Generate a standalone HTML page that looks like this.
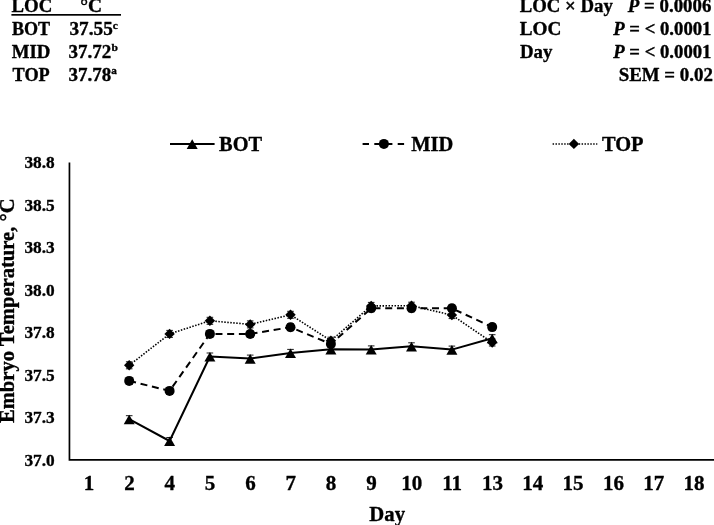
<!DOCTYPE html>
<html><head><meta charset="utf-8"><title>Embryo Temperature</title>
<style>
html,body{margin:0;padding:0;background:#fff;}
body{width:714px;height:525px;overflow:hidden;}
svg{display:block;}
text{font-family:"Liberation Serif","Times New Roman",Times,serif;font-weight:bold;stroke:#000;stroke-width:0.35px;stroke-linejoin:round;fill:#000;}
.yt{font-size:17.3px;text-anchor:end;}
.xt{font-size:21px;text-anchor:middle;}
.ti{font-size:20.6px;text-anchor:middle;}
</style></head><body>
<svg width="714" height="525" viewBox="0 0 714 525">
<rect width="714" height="525" fill="#fff"/>
<g>
<text transform="translate(11.54 12.00) scale(1.0523 1)" style="font-size:17.9px">LOC</text>
<text transform="translate(80.18 12.00) scale(1.0889 1)" style="font-size:17.9px">°C</text>
<rect x="11.4" y="14.0" width="109.6" height="1.7" fill="#000"/>
<text transform="translate(11.90 35.20) scale(1.0093 1)" style="font-size:17.9px">BOT</text>
<text transform="translate(69.46 35.20) scale(1.0752 1)" style="font-size:17.9px">37.55</text>
<text transform="translate(112.74 28.60) scale(1.0444 1)" style="font-size:11px">c</text>
<text transform="translate(11.74 58.00) scale(1.0490 1)" style="font-size:17.9px">MID</text>
<text transform="translate(68.47 58.00) scale(1.0624 1)" style="font-size:17.9px">37.72</text>
<text transform="translate(111.60 51.40) scale(1.0435 1)" style="font-size:11px">b</text>
<text transform="translate(12.60 81.00) scale(1.0194 1)" style="font-size:17.9px">TOP</text>
<text transform="translate(68.47 81.00) scale(1.0624 1)" style="font-size:17.9px">37.78</text>
<text transform="translate(111.25 74.40) scale(1.0095 1)" style="font-size:11px">a</text>
</g><g>
<text transform="translate(519.75 12.20) scale(1.0142 1)" style="font-size:18.5px">LOC × Day</text>
<text transform="translate(627.85 12.20) scale(1.0190 1)" style="font-size:18.5px"><tspan font-style="italic">P</tspan> = 0.0006</text>
<text transform="translate(519.74 35.20) scale(1.0390 1)" style="font-size:18.5px">LOC</text>
<text transform="translate(613.25 35.20) scale(1.0114 1)" style="font-size:18.5px"><tspan font-style="italic">P</tspan> = &lt; 0.0001</text>
<text transform="translate(520.05 57.80) scale(1.0159 1)" style="font-size:18.5px">Day</text>
<text transform="translate(613.25 57.80) scale(1.0114 1)" style="font-size:18.5px"><tspan font-style="italic">P</tspan> = &lt; 0.0001</text>
<text transform="translate(618.63 80.60) scale(1.0220 1)" style="font-size:18.5px">SEM = 0.02</text>
</g><g>
<path d="M170 144H214.6" stroke="#000" stroke-width="2.0" fill="none"/><path d="M192.2 139.3L197.7 148.9H186.7Z"/>
<text transform="translate(219.07 150.80) scale(0.9333 1)" style="font-size:21.8px">BOT</text>
<path d="M362.6 144H407" stroke="#000" stroke-width="2.0" fill="none" stroke-dasharray="6.4 5.3"/><circle cx="383.9" cy="143.9" r="5.0"/>
<text transform="translate(411.27 150.80) scale(0.9394 1)" style="font-size:21.8px">MID</text>
<path d="M552.6 144H597.3" stroke="#000" stroke-width="1.6" fill="none" stroke-dasharray="1.45 1.45"/><path d="M573.9 138.7L579.1 143.9L573.9 149.1L568.7 143.9Z"/>
<text transform="translate(601.97 150.80) scale(0.9371 1)" style="font-size:21.8px">TOP</text>
</g>
<path d="M69.45 162.5V459.8H714" stroke="#000" stroke-width="1.7" fill="none" stroke-linejoin="miter"/>
<text class="yt" x="54.7" y="466.0">37.0</text>
<text class="yt" x="54.7" y="423.4">37.3</text>
<text class="yt" x="54.7" y="380.9">37.5</text>
<text class="yt" x="54.7" y="338.3">37.8</text>
<text class="yt" x="54.7" y="295.7">38.0</text>
<text class="yt" x="54.7" y="253.2">38.3</text>
<text class="yt" x="54.7" y="210.6">38.5</text>
<text class="yt" x="54.7" y="168.0">38.8</text>
<text class="xt" x="89.1" y="490.4">1</text>
<text class="xt" x="129.4" y="490.4">2</text>
<text class="xt" x="169.8" y="490.4">4</text>
<text class="xt" x="210.1" y="490.4">5</text>
<text class="xt" x="250.4" y="490.4">6</text>
<text class="xt" x="290.7" y="490.4">7</text>
<text class="xt" x="331.1" y="490.4">8</text>
<text class="xt" x="371.4" y="490.4">9</text>
<text class="xt" x="411.7" y="490.4">10</text>
<text class="xt" x="452.1" y="490.4">11</text>
<text class="xt" x="492.4" y="490.4">13</text>
<text class="xt" x="532.7" y="490.4">14</text>
<text class="xt" x="573.1" y="490.4">15</text>
<text class="xt" x="613.4" y="490.4">16</text>
<text class="xt" x="653.7" y="490.4">17</text>
<text class="xt" x="694.0" y="490.4">18</text>
<text transform="translate(369.36 521.00) scale(0.9699 1)" style="font-size:21.4px">Day</text>
<text class="ti" transform="translate(14.3 310.7) rotate(-90)">Embryo Temperature, °C</text>
<polyline points="129.2,419.2 169.6,441.0 209.9,356.5 250.2,358.6 290.5,352.9 330.9,349.3 371.2,349.4 411.5,346.3 451.9,349.6 492.2,338.2" fill="none" stroke="#000" stroke-width="2.0" stroke-linejoin="round"/>
<polyline points="129.2,380.9 169.6,390.9 209.9,333.9 250.2,334.0 290.5,327.2 330.9,344.0 371.2,308.3 411.5,308.3 451.9,308.3 492.2,327.1" fill="none" stroke="#000" stroke-width="2.0" stroke-dasharray="7 4.7" stroke-linejoin="round"/>
<polyline points="129.2,365.3 169.6,333.9 209.9,320.8 250.2,324.4 290.5,314.8 330.9,340.7 371.2,305.9 411.5,305.7 451.9,315.1 492.2,342.5" fill="none" stroke="#000" stroke-width="1.6" stroke-dasharray="1.5 1.5" stroke-linejoin="round"/>
<path d="M129.2 415.7V422.7M125.9 415.7H132.5M125.9 422.7H132.5M169.6 437.5V444.5M166.3 437.5H172.9M166.3 444.5H172.9M209.9 353.0V360.0M206.6 353.0H213.2M206.6 360.0H213.2M250.2 355.1V362.1M246.9 355.1H253.5M246.9 362.1H253.5M290.5 349.4V356.4M287.2 349.4H293.8M287.2 356.4H293.8M330.9 345.8V352.8M327.6 345.8H334.2M327.6 352.8H334.2M371.2 345.9V352.9M367.9 345.9H374.5M367.9 352.9H374.5M411.5 342.8V349.8M408.2 342.8H414.8M408.2 349.8H414.8M451.9 346.1V353.1M448.6 346.1H455.2M448.6 353.1H455.2M492.2 334.7V341.7M488.9 334.7H495.5M488.9 341.7H495.5" stroke="#000" stroke-width="0.9" fill="none"/>
<path d="M129.2 377.4V384.4M125.9 377.4H132.5M125.9 384.4H132.5M169.6 387.4V394.4M166.3 387.4H172.9M166.3 394.4H172.9M209.9 330.4V337.4M206.6 330.4H213.2M206.6 337.4H213.2M250.2 330.5V337.5M246.9 330.5H253.5M246.9 337.5H253.5M290.5 323.7V330.7M287.2 323.7H293.8M287.2 330.7H293.8M330.9 340.5V347.5M327.6 340.5H334.2M327.6 347.5H334.2M371.2 304.8V311.8M367.9 304.8H374.5M367.9 311.8H374.5M411.5 304.8V311.8M408.2 304.8H414.8M408.2 311.8H414.8M451.9 304.8V311.8M448.6 304.8H455.2M448.6 311.8H455.2M492.2 323.6V330.6M488.9 323.6H495.5M488.9 330.6H495.5" stroke="#000" stroke-width="0.9" fill="none"/>
<path d="M129.2 361.8V368.8M125.9 361.8H132.5M125.9 368.8H132.5M169.6 330.4V337.4M166.3 330.4H172.9M166.3 337.4H172.9M209.9 317.3V324.3M206.6 317.3H213.2M206.6 324.3H213.2M250.2 320.9V327.9M246.9 320.9H253.5M246.9 327.9H253.5M290.5 311.3V318.3M287.2 311.3H293.8M287.2 318.3H293.8M330.9 337.2V344.2M327.6 337.2H334.2M327.6 344.2H334.2M371.2 302.4V309.4M367.9 302.4H374.5M367.9 309.4H374.5M411.5 302.2V309.2M408.2 302.2H414.8M408.2 309.2H414.8M451.9 311.6V318.6M448.6 311.6H455.2M448.6 318.6H455.2M492.2 339.0V346.0M488.9 339.0H495.5M488.9 346.0H495.5" stroke="#000" stroke-width="0.9" fill="none"/>
<g fill="#000">
<path d="M129.2 414.7L134.7 424.3H123.7Z"/>
<path d="M169.6 436.5L175.1 446.1H164.1Z"/>
<path d="M209.9 352.0L215.4 361.6H204.4Z"/>
<path d="M250.2 354.1L255.7 363.7H244.7Z"/>
<path d="M290.5 348.4L296.0 358.0H285.0Z"/>
<path d="M330.9 344.8L336.4 354.4H325.4Z"/>
<path d="M371.2 344.9L376.7 354.5H365.7Z"/>
<path d="M411.5 341.8L417.0 351.4H406.0Z"/>
<path d="M451.9 345.1L457.4 354.7H446.4Z"/>
<path d="M492.2 333.7L497.7 343.3H486.7Z"/>
<circle cx="129.2" cy="380.9" r="5.0"/>
<circle cx="169.6" cy="390.9" r="5.0"/>
<circle cx="209.9" cy="333.9" r="5.0"/>
<circle cx="250.2" cy="334.0" r="5.0"/>
<circle cx="290.5" cy="327.2" r="5.0"/>
<circle cx="330.9" cy="344.0" r="5.0"/>
<circle cx="371.2" cy="308.3" r="5.0"/>
<circle cx="411.5" cy="308.3" r="5.0"/>
<circle cx="451.9" cy="308.3" r="5.0"/>
<circle cx="492.2" cy="327.1" r="5.0"/>
<path d="M129.2 360.1L134.4 365.3L129.2 370.5L124.0 365.3Z"/>
<path d="M169.6 328.7L174.8 333.9L169.6 339.1L164.4 333.9Z"/>
<path d="M209.9 315.6L215.1 320.8L209.9 326.0L204.7 320.8Z"/>
<path d="M250.2 319.2L255.4 324.4L250.2 329.6L245.0 324.4Z"/>
<path d="M290.5 309.6L295.7 314.8L290.5 320.0L285.3 314.8Z"/>
<path d="M330.9 335.5L336.1 340.7L330.9 345.9L325.7 340.7Z"/>
<path d="M371.2 300.7L376.4 305.9L371.2 311.1L366.0 305.9Z"/>
<path d="M411.5 300.5L416.7 305.7L411.5 310.9L406.3 305.7Z"/>
<path d="M451.9 309.9L457.1 315.1L451.9 320.3L446.7 315.1Z"/>
<path d="M492.2 337.3L497.4 342.5L492.2 347.7L487.0 342.5Z"/>
</g>
</svg></body></html>
